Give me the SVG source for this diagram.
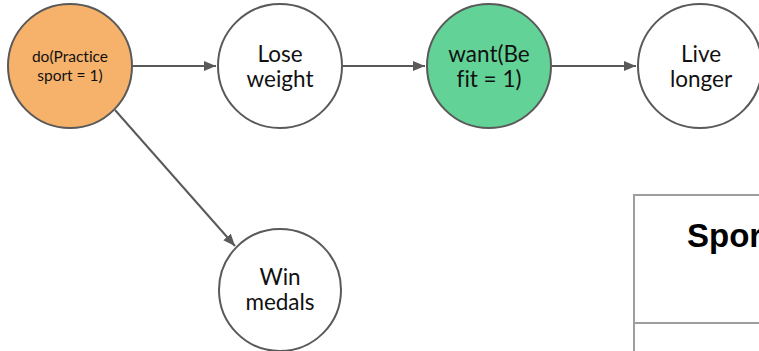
<svg xmlns="http://www.w3.org/2000/svg" width="759" height="351" viewBox="0 0 759 351">
  <defs>
    <marker id="arrow" viewBox="0 0 12 10" refX="12" refY="5" markerWidth="12" markerHeight="10" markerUnits="userSpaceOnUse" orient="auto">
      <path d="M0,0 L12,5 L0,10 z" fill="#595959"/>
    </marker>
    <style>
      .node { stroke: #595959; stroke-width: 2; }
      .label { font-family: "Lato", "Open Sans", sans-serif; fill: #111; text-anchor: middle; font-size: 22.5px; font-variant-ligatures: none; }
      .small { font-size: 15.5px; }
      .edge { stroke: #595959; stroke-width: 2; fill: none; marker-end: url(#arrow); }
      .grid { stroke: #9e9e9e; stroke-width: 2; fill: none; }
    </style>
  </defs>
  <rect width="759" height="351" fill="#fff"/>

  <g id="connectors">
    <line class="edge" x1="133" y1="66" x2="216" y2="66"/>
    <line class="edge" x1="343" y1="66" x2="425" y2="66"/>
    <line class="edge" x1="552" y1="66" x2="636" y2="66"/>
    <line class="edge" x1="115" y1="110" x2="235" y2="246"/>
  </g>

  <g id="practice-sport">
    <circle class="node" cx="70" cy="66" r="62" fill="#f6b26b"/>
    <text class="label small" x="70" y="62">do(Practice</text>
    <text class="label small" x="70" y="81">sport = 1)</text>
  </g>

  <g id="lose-weight">
    <circle class="node" cx="280" cy="66" r="62" fill="#fff"/>
    <text class="label" x="280" y="62">Lose</text>
    <text class="label" x="280" y="87">weight</text>
  </g>

  <g id="be-fit">
    <circle class="node" cx="489" cy="66" r="62" fill="#63d297"/>
    <text class="label" x="489" y="62">want(Be</text>
    <text class="label" x="489" y="87">fit = 1)</text>
  </g>

  <g id="live-longer">
    <circle class="node" cx="700" cy="66" r="62" fill="#fff"/>
    <text class="label" x="701" y="62">Live</text>
    <text class="label" x="701" y="87">longer</text>
  </g>

  <g id="win-medals">
    <circle class="node" cx="280" cy="290" r="61" fill="#fff"/>
    <text class="label" x="280" y="285">Win</text>
    <text class="label" x="280" y="310">medals</text>
  </g>

  <!-- table continues past the right and bottom edges of the canvas -->
  <g id="sport-table">
    <rect class="grid" x="634" y="195" width="140" height="170"/>
    <line class="grid" x1="634" y1="323" x2="759" y2="323"/>
    <text x="687" y="247" font-family="Liberation Sans, Arial, sans-serif" font-weight="bold" font-size="33" fill="#000">Spor</text>
  </g>
</svg>
